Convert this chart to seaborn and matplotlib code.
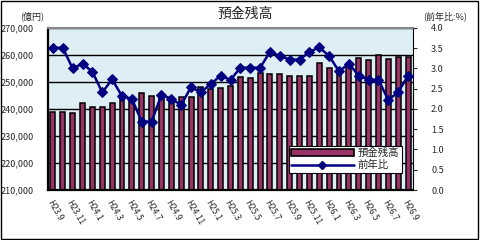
import numpy as np
import pandas as pd
import matplotlib
matplotlib.use("Agg")
import matplotlib.pyplot as plt
from matplotlib.patches import Rectangle, Patch
from matplotlib.lines import Line2D
import seaborn as sns

months = ["H23.9", "H23.10", "H23.11", "H23.12",
          "H24.1", "H24.2", "H24.3", "H24.4", "H24.5", "H24.6", "H24.7", "H24.8",
          "H24.9", "H24.10", "H24.11", "H24.12",
          "H25.1", "H25.2", "H25.3", "H25.4", "H25.5", "H25.6", "H25.7", "H25.8",
          "H25.9", "H25.10", "H25.11", "H25.12",
          "H26.1", "H26.2", "H26.3", "H26.4", "H26.5", "H26.6", "H26.7", "H26.8", "H26.9"]

deposits = [239000, 239000, 238400, 242300, 240900, 240900, 242400, 244000, 243600,
            246000, 244700, 244500, 243800, 244300, 244300, 248300, 247300, 247700,
            248600, 251700, 251400, 253500, 252800, 253100, 252100, 252100, 252300,
            256900, 255100, 254300, 255800, 258800, 258100, 260000, 258400, 259100,
            259100]

yoy = [3.51, 3.51, 3.00, 3.12, 2.92, 2.41, 2.73, 2.32, 2.25, 1.69, 1.69, 2.35,
       2.25, 2.10, 2.54, 2.41, 2.62, 2.82, 2.72, 3.02, 3.02, 3.02, 3.41, 3.31,
       3.22, 3.22, 3.41, 3.52, 3.31, 2.93, 3.12, 2.82, 2.72, 2.72, 2.22, 2.42,
       2.82]

left_ticks = [210000, 220000, 230000, 240000, 250000, 260000, 270000]
right_ticks = [0.0, 0.5, 1.0, 1.5, 2.0, 2.5, 3.0, 3.5, 4.0]

sns.set_style("white")
plt.rcParams['font.family'] = ['Noto Sans CJK JP', 'DejaVu Sans']

bar_color = "#993366"
line_color = "#000080"

df = pd.DataFrame({"month": months, "deposit": deposits, "yoy": yoy,
                   "pos": np.arange(len(months))})

fig = plt.figure(figsize=(4.8, 2.4), dpi=100)
fig.patch.set_facecolor("white")
fig.add_artist(Rectangle((0.002, 0.004), 0.994, 0.99, transform=fig.transFigure,
                         fill=False, edgecolor="black", linewidth=1.0))

ax = fig.add_axes([48/480, 1-190/240, 365/480, 162/240])
ax.set_facecolor("#DDEEF4")

sns.barplot(data=df, x="month", y="deposit", ax=ax, color=bar_color,
            edgecolor="black", linewidth=1.1, width=0.5, saturation=1)
ax.set_ylim(210000, 270000)
ax.set_yticks(left_ticks)
ax.set_yticklabels([f"{v:,}" for v in left_ticks], fontsize=6.5)
ax.yaxis.grid(True, color="black", linewidth=1.0)
ax.set_axisbelow(True)
ax.set_xlabel("")
ax.set_ylabel("")
ax.set_xlim(-0.5, len(months) - 0.5)
ax.set_xticks(np.arange(0, len(months), 2))
ax.set_xticklabels(months[::2], rotation=-60, ha="left", va="top",
                   rotation_mode="anchor", fontsize=6)
ax.tick_params(axis="x", length=0, pad=6)
ax.set_xticks(np.arange(-0.5, len(months), 1), minor=True)
ax.tick_params(axis="x", which="minor", length=3, direction="in", width=0.8)
ax.tick_params(axis="y", length=0, pad=10)
for s in ["left", "bottom"]:
    ax.spines[s].set_color("black")
    ax.spines[s].set_linewidth(1.6)
ax.spines["top"].set_color("#888888")
ax.spines["top"].set_linewidth(1.5)
ax.spines["right"].set_color("black")

ax2 = ax.twinx()
sns.lineplot(data=df, x="pos", y="yoy", ax=ax2, color=line_color, linewidth=1.8,
             marker="D", markersize=5, markeredgecolor=line_color)
ax2.set_ylim(0, 4.0)
ax2.set_yticks(right_ticks)
ax2.set_yticklabels([f"{v:.1f}" for v in right_ticks], fontsize=6.5)
ax2.tick_params(axis="y", length=3, direction="out", pad=10)
ax2.set_ylabel("")
ax2.set_xlabel("")
ax2.set_xlim(-0.5, len(months) - 0.5)
for s in ax2.spines.values():
    s.set_visible(False)

handles = [Patch(facecolor=bar_color, edgecolor="black", linewidth=1.2),
           Line2D([0], [0], color=line_color, linewidth=1.8, marker="D", markersize=4)]
leg = ax2.legend(handles, ["預金残高", "前年比"], loc="lower left",
                 bbox_to_anchor=(0.645, 0.075), fontsize=7.5, frameon=True,
                 fancybox=False, handlelength=6.0, handleheight=0.6,
                 borderpad=0.25, labelspacing=0.15, handletextpad=0.4)
leg.get_frame().set_edgecolor("black")
leg.get_frame().set_linewidth(0.8)
leg.get_frame().set_facecolor("white")
leg.get_frame().set_alpha(1)

fig.text(245/480, 1-14/240, "預金残高", ha="center", va="center", fontsize=10)
fig.text(32/480, 1-16/240, "(億円)", ha="center", va="center", fontsize=6.5)
fig.text(445/480, 1-16/240, "(前年比:%)", ha="center", va="center", fontsize=6.5)

fig.savefig("out.png", dpi=100)
